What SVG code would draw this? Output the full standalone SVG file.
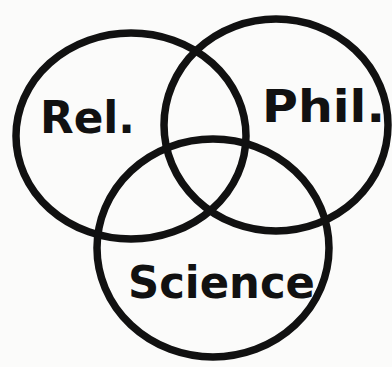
<svg xmlns="http://www.w3.org/2000/svg" width="392" height="367" viewBox="0 0 392 367">
<style>
.c{fill:none;stroke:#111;stroke-width:7.5}
.t{font-family:"DejaVu Sans",sans-serif;font-weight:bold;fill:#111}
</style>
<rect width="392" height="367" fill="#fbfbfa"/>
<g id="connectors"></g>
<g id="rel">
<ellipse class="c" cx="131" cy="136" rx="115" ry="103"/>
<text class="t" x="40" y="133" font-size="44" textLength="95" lengthAdjust="spacingAndGlyphs">Rel.</text>
</g>
<g id="phil">
<ellipse class="c" cx="276" cy="125" rx="112" ry="106"/>
<text class="t" x="262" y="122" font-size="44" textLength="123" lengthAdjust="spacingAndGlyphs">Phil.</text>
</g>
<g id="science">
<ellipse class="c" cx="213" cy="248" rx="116" ry="109"/>
<text class="t" x="128" y="298" font-size="44" textLength="187" lengthAdjust="spacingAndGlyphs">Science</text>
</g>
</svg>
